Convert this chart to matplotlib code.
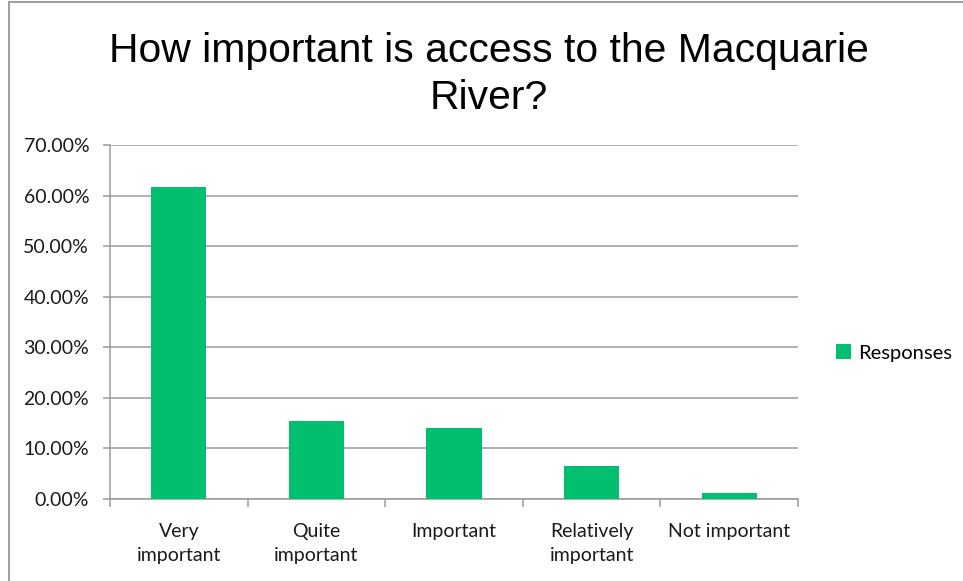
import matplotlib.pyplot as plt
from matplotlib.patches import Rectangle
from matplotlib.ticker import FuncFormatter
import numpy as np

categories = ["Very\nimportant", "Quite\nimportant", "Important", "Relatively\nimportant", "Not important"]
responses = [61.6, 15.4, 14.0, 6.5, 1.1]
yticks = [0, 10, 20, 30, 40, 50, 60, 70]
title_lines = ["How important is access to the Macquarie", "River?"]

green = "#00BF6F"
grid_col = "#9a9a9a"

fig = plt.figure(figsize=(9.63, 5.81), dpi=100)

# outer chart border
fig.patches.append(Rectangle((9 / 963, -0.05), 1.0, 1 - 2 / 581 + 0.05, transform=fig.transFigure,
                             fill=False, edgecolor="#8c8c8c", linewidth=1.2))

ax = fig.add_axes([110 / 963, 82 / 581, 688 / 963, 354 / 581])

x = np.arange(len(categories))
ax.bar(x, responses, width=0.4, color=green, label="Responses", zorder=3)

ax.set_xlim(-0.5, len(categories) - 0.5)
ax.set_ylim(0, 70)
ax.set_yticks(yticks)
ax.yaxis.set_major_formatter(FuncFormatter(lambda v, p: f"{v:.2f}%"))
ax.grid(axis="y", color=grid_col, linewidth=1.1, zorder=0)

ax.set_xticks(x)
ax.set_xticklabels(categories, fontsize=14, family="Lato", linespacing=1.55, color="#1a1a1a")
ax.set_xticks(np.arange(-0.5, len(categories)), minor=True)
ax.tick_params(axis="x", which="major", length=0, pad=17)
ax.tick_params(axis="x", which="minor", length=6, color=grid_col, width=1.1)
ax.tick_params(axis="y", length=5, color=grid_col, width=1.1, labelsize=14, pad=10, labelcolor="#1a1a1a")
for lab in ax.get_yticklabels():
    lab.set_family("Lato")

for s in ["top", "right"]:
    ax.spines[s].set_visible(False)
for s in ["left", "bottom"]:
    ax.spines[s].set_color(grid_col)
    ax.spines[s].set_linewidth(1.1)

fig.text(489 / 963, 1 - 62 / 581, title_lines[0], ha="center", va="baseline",
         fontsize=29.4, family="Liberation Sans")
fig.text(489 / 963, 1 - 109 / 581, title_lines[1], ha="center", va="baseline",
         fontsize=29.4, family="Liberation Sans")

ax.legend(loc="center left", bbox_to_anchor=(818 / 963, 1 - 353 / 581), bbox_transform=fig.transFigure,
          frameon=False, handlelength=0.75, handleheight=0.75, handletextpad=0.35,
          prop={"family": "Lato", "size": 14.5})

fig.savefig("out.png", dpi=100)
